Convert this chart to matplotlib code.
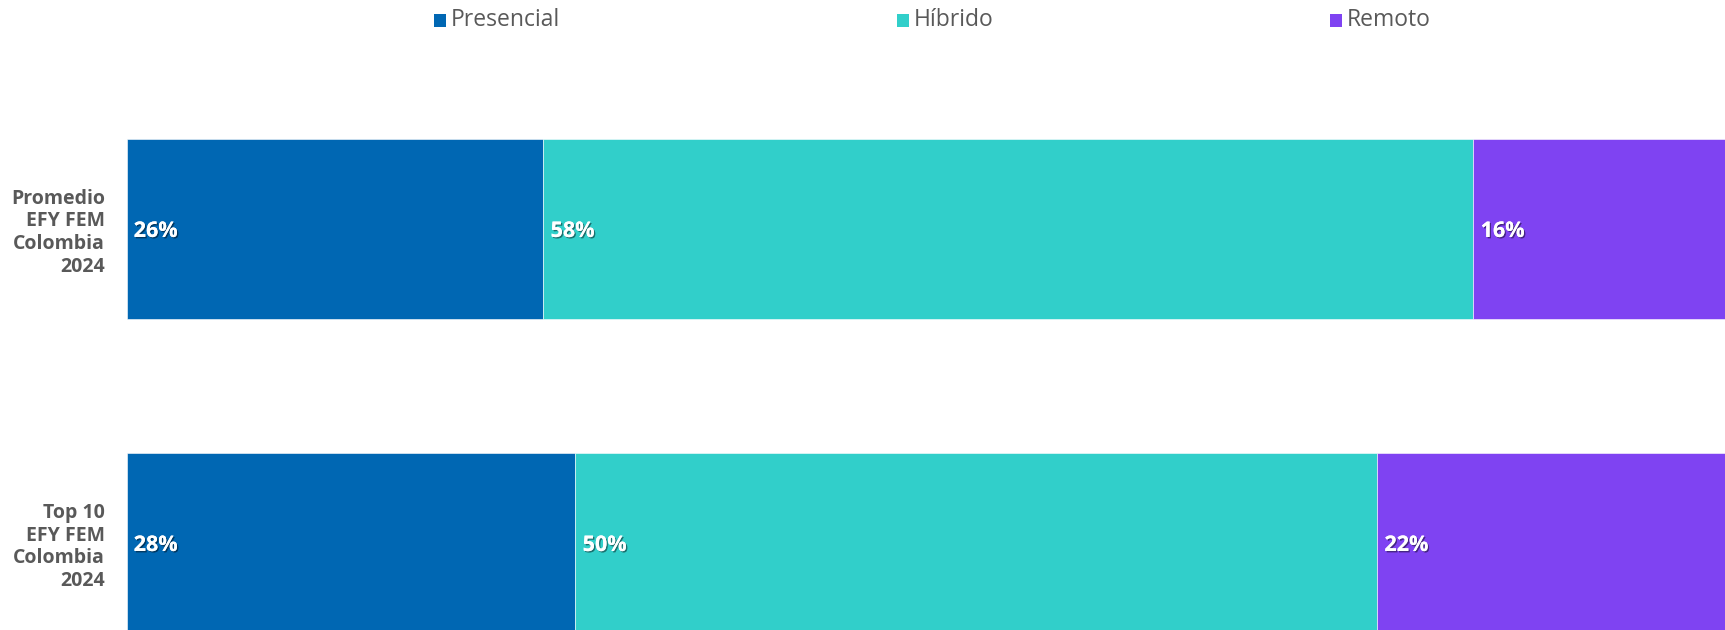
import matplotlib
matplotlib.use("Agg")
import matplotlib.pyplot as plt
import matplotlib.patheffects as pe
from matplotlib.patches import Rectangle
import numpy as np

categories = ["Promedio\nEFY FEM\nColombia\n2024", "Top 10\nEFY FEM\nColombia\n2024"]
series_names = ["Presencial", "Híbrido", "Remoto"]
presencial = [26, 28]
hibrido = [58, 50]
remoto = [16, 22]
colors = ["#0067B3", "#31CFCA", "#7F43F2"]

W, H = 1725, 630
fig = plt.figure(figsize=(W / 100, H / 100), dpi=100)
font = "Open Sans"
gray = "#595959"

left_px, right_px = 126.5, 1730
ax = fig.add_axes([left_px / W, 0, (right_px - left_px) / W, (630 - 60) / H])
ax.set_xlim(0, 100)
ax.set_ylim(1.277, -0.538)

y = np.arange(len(categories))
data = [presencial, hibrido, remoto]
left = np.zeros(len(categories))
for name, vals, c in zip(series_names, data, colors):
    vals = np.array(vals, dtype=float)
    ax.barh(y, vals, left=left, height=0.573, color=c, edgecolor="white", linewidth=0.4, label=name)
    for yi, (l, v) in enumerate(zip(left, vals)):
        t = ax.text(l + 0.45, yi, f"{int(v)}%", ha="left", va="center_baseline", color="white",
                    fontsize=15.5, fontweight="bold", family=font)
        t.set_path_effects([pe.withSimplePatchShadow(offset=(1, -1), shadow_rgbFace="black", alpha=0.45),
                            pe.Normal()])
    left += vals

ax.set_yticks(y)
ax.set_yticklabels(categories, fontsize=14, fontweight="bold", color=gray, family=font,
                   linespacing=1.18, ha="right")
ax.tick_params(axis="y", length=0, pad=15.5)
ax.set_xticks([])
for s in ax.spines.values():
    s.set_visible(False)

# legend
leg_x = [434, 897, 1330]
leg_y = 20.5
for x0, name, c in zip(leg_x, series_names, colors):
    fig.add_artist(Rectangle((x0 / W, 1 - (leg_y + 6) / H), 12 / W, 12 / H,
                             transform=fig.transFigure, color=c, lw=0))
    fig.text((x0 + 17) / W, 1 - leg_y / H, name, ha="left", va="center",
             fontsize=16.5, color=gray, family=font)

fig.savefig("out.png", dpi=100)
